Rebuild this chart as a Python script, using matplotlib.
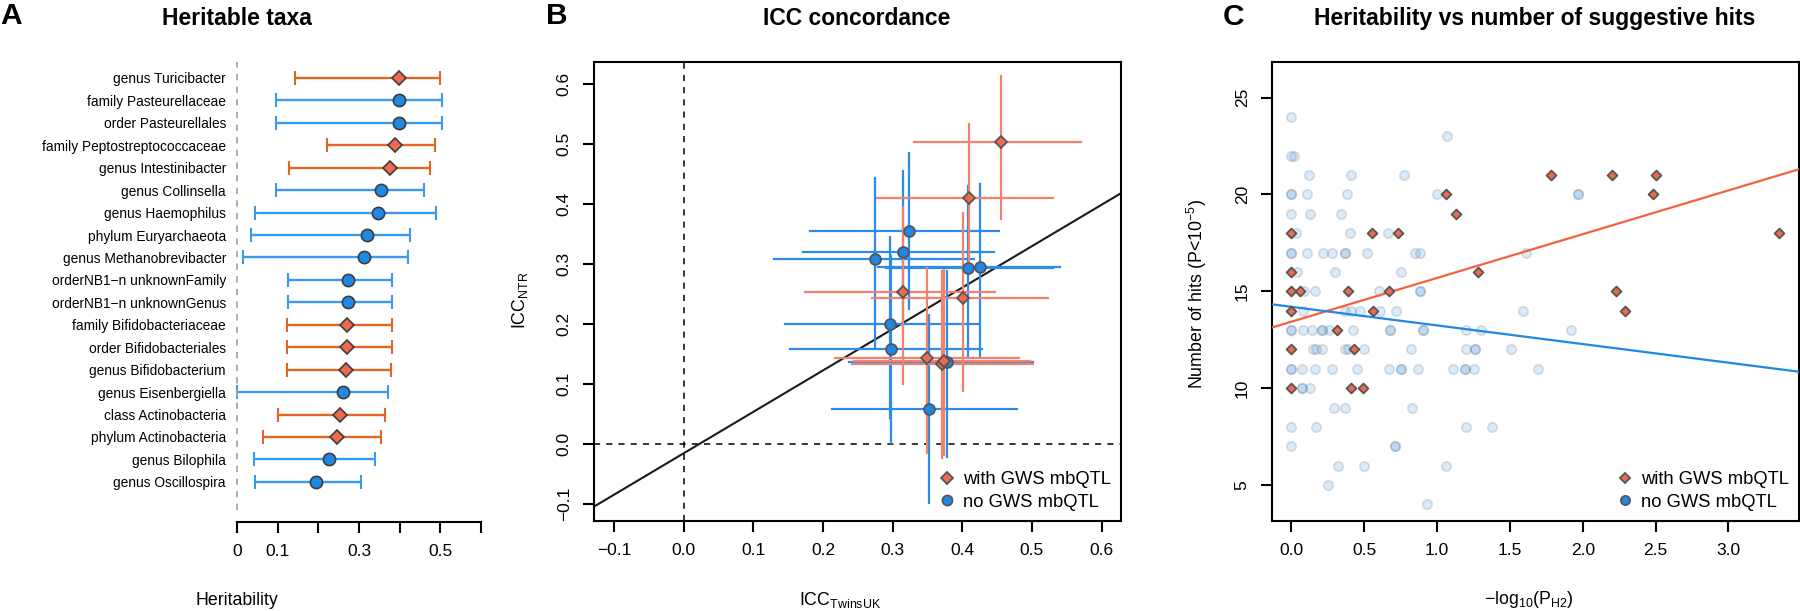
import numpy as np
import matplotlib
matplotlib.use("Agg")
import matplotlib.pyplot as plt
from matplotlib.lines import Line2D

plt.rcParams['font.family'] = ['Liberation Sans', 'DejaVu Sans']
plt.rcParams['mathtext.fontset'] = 'custom'
plt.rcParams['mathtext.rm'] = 'Liberation Sans'
plt.rcParams['mathtext.it'] = 'Liberation Sans:italic'
plt.rcParams['mathtext.bf'] = 'Liberation Sans:bold'

# ---------------- panel A : heritable taxa ----------------
taxa = ["genus Turicibacter", "family Pasteurellaceae", "order Pasteurellales",
        "family Peptostreptococcaceae", "genus Intestinibacter", "genus Collinsella",
        "genus Haemophilus", "phylum Euryarchaeota", "genus Methanobrevibacter",
        "orderNB1\u2212n unknownFamily", "orderNB1\u2212n unknownGenus",
        "family Bifidobacteriaceae", "order Bifidobacteriales", "genus Bifidobacterium",
        "genus Eisenbergiella", "class Actinobacteria", "phylum Actinobacteria",
        "genus Bilophila", "genus Oscillospira"]
h2 = [0.399, 0.398, 0.398, 0.389, 0.375, 0.355, 0.347, 0.319, 0.313, 0.273, 0.273,
      0.270, 0.270, 0.268, 0.261, 0.254, 0.245, 0.226, 0.195]
h2_lo = [0.142, 0.096, 0.096, 0.222, 0.127, 0.097, 0.044, 0.035, 0.015, 0.125, 0.125,
         0.124, 0.124, 0.122, 0.000, 0.100, 0.063, 0.043, 0.044]
h2_hi = [0.498, 0.505, 0.505, 0.488, 0.474, 0.460, 0.490, 0.425, 0.420, 0.382, 0.382,
         0.380, 0.380, 0.378, 0.372, 0.365, 0.355, 0.340, 0.306]
gws_taxon = [True, False, False, True, True, False, False, False, False, False, False,
             True, True, True, False, True, True, False, False]

# ---------------- panel B : ICC concordance ----------------
# with GWS mbQTL
gws_twins = [0.455, 0.410, 0.315, 0.401, 0.350, 0.371, 0.374]
gws_twins_lo = [0.330, 0.277, 0.174, 0.270, 0.217, 0.242, 0.245]
gws_twins_hi = [0.570, 0.530, 0.447, 0.523, 0.482, 0.501, 0.498]
gws_ntr = [0.504, 0.411, 0.253, 0.243, 0.144, 0.134, 0.139]
gws_ntr_lo = [0.375, 0.288, 0.100, 0.088, -0.014, -0.023, -0.018]
gws_ntr_hi = [0.614, 0.534, 0.395, 0.385, 0.293, 0.289, 0.290]
# no GWS mbQTL
nog_twins = [0.323, 0.315, 0.275, 0.408, 0.425, 0.296, 0.298, 0.352, 0.378]
nog_twins_lo = [0.181, 0.171, 0.130, 0.290, 0.279, 0.146, 0.152, 0.213, 0.237]
nog_twins_hi = [0.453, 0.445, 0.417, 0.531, 0.540, 0.424, 0.429, 0.479, 0.502]
nog_ntr = [0.356, 0.320, 0.308, 0.294, 0.296, 0.200, 0.159, 0.059, 0.137]
nog_ntr_lo = [0.225, 0.186, 0.162, 0.143, 0.145, 0.043, 0.002, -0.098, -0.021]
nog_ntr_hi = [0.486, 0.455, 0.444, 0.431, 0.433, 0.346, 0.313, 0.216, 0.289]
icc_fit = (-0.015, 0.69)   # intercept, slope

# ---------------- panel C : heritability vs hits ----------------
gws_logp = [0.00, 0.00, 0.00, 0.06, 0.39, 0.67, 0.55, 0.73, 1.06, 1.13, 0.00, 0.56, 0.31,
            0.00, 0.43, 0.00, 0.41, 0.49, 1.78, 2.20, 2.50, 2.48, 3.35, 1.28, 2.23, 2.29]
gws_hits = [18, 16, 15, 15, 15, 15, 18, 18, 20, 19, 14, 14, 13,
            12, 12, 10, 10, 10, 21, 21, 21, 20, 18, 16, 15, 14]
nog_logp = [0.00,
            1.07,
            0.00, 0.02,
            0.12, 0.41, 0.77,
            0.00, 0.00, 0.11, 0.38, 1.00, 1.97, 1.97,
            0.00, 0.13, 0.34,
            0.03, 0.40, 0.66,
            0.00, 0.00, 0.11, 0.22, 0.28, 0.37, 0.37, 0.52, 0.85, 0.88, 1.61,
            0.04, 0.30, 0.75,
            0.09, 0.16, 0.60, 0.88, 0.88,
            0.08, 0.37, 0.41, 0.47, 0.61, 0.72, 1.59,
            0.00, 0.00, 0.08, 0.14, 0.21, 0.21, 0.26, 0.42, 0.68, 0.68, 0.90, 0.90, 1.20, 1.30, 1.92,
            0.15, 0.17, 0.21, 0.37, 0.39, 0.50, 0.82, 1.20, 1.26, 1.26, 1.51,
            0.00, 0.00, 0.07, 0.16, 0.28, 0.45, 0.67, 0.75, 0.75, 0.87, 1.11, 1.19, 1.19, 1.25, 1.69,
            0.07, 0.07, 0.13,
            0.29, 0.37, 0.83,
            0.00, 0.17, 1.20, 1.38,
            0.00, 0.71, 0.71,
            0.32, 0.50, 1.06,
            0.25,
            0.93]
nog_hits = ([24] + [23] + [22] * 2 + [21] * 3 + [20] * 7 + [19] * 3 + [18] * 3 + [17] * 11
            + [16] * 3 + [15] * 5 + [14] * 7 + [13] * 15 + [12] * 11 + [11] * 15 + [10] * 3
            + [9] * 3 + [8] * 4 + [7] * 3 + [6] * 3 + [5] + [4])
gws_fit = (13.43, 2.26)
nog_fit = (14.20, -0.962)

# colours
OR_FILL = '#EE6A4D'
OR_LINE_A = '#E2661F'
OR_LINE_B = '#F1836E'
OR_LINE_C = '#F4613F'
BL_FILL = '#1E88E5'
BL_LINE_A = '#3A9AF0'
BL_LINE_B = '#2B8CEB'
EDGE = '#3d3d3d'
EDGE2 = '#555555'

W, H = 1800, 611
fig = plt.figure(figsize=(18, 6.11), dpi=100)


def box(l, t, r, b):
    return [l / W, 1 - b / H, (r - l) / W, (b - t) / H]


def fx(x):
    return x / W


def fy(y):
    return 1 - y / H


TICK_FS = 12.5
LAB_FS = 12.8
TITLE_FS = 16.5
LEG_FS = 13.2

# ---------- A ----------
axA = fig.add_axes(box(237, 62, 481, 522))
for i in range(len(taxa)):
    lc = OR_LINE_A if gws_taxon[i] else BL_LINE_A
    axA.errorbar(h2[i], i, xerr=[[h2[i] - h2_lo[i]], [h2_hi[i] - h2[i]]], fmt='none',
                 ecolor=lc, elinewidth=1.7, capsize=4.8, capthick=1.5, clip_on=False)
    if gws_taxon[i]:
        axA.plot(h2[i], i, marker='D', ms=7.0, mfc=OR_FILL, mec=EDGE, mew=1.2, clip_on=False, zorder=5)
    else:
        axA.plot(h2[i], i, marker='o', ms=8.8, mfc=BL_FILL, mec=EDGE, mew=1.2, clip_on=False, zorder=5)
axA.axvline(0, ymin=0.026, ymax=1, color='#a8a8a8', ls=(0, (3.5, 3.5)), lw=1.3, clip_on=False)
axA.set_xlim(0, 0.6)
axA.set_ylim(19.79, -0.713)
axA.set_yticks(range(len(taxa)))
axA.set_yticklabels(taxa, fontsize=9.9)
axA.tick_params(axis='y', length=0, pad=8)
axA.set_xticks([0, 0.1, 0.2, 0.3, 0.4, 0.5, 0.6])
axA.set_xticklabels(['0', '0.1', '', '0.3', '', '0.5', ''], fontsize=TICK_FS)
axA.tick_params(axis='x', length=8, width=1.5, pad=8)
for s in ['top', 'right', 'left']:
    axA.spines[s].set_visible(False)
axA.spines['bottom'].set_linewidth(1.5)
axA.set_facecolor('none')
fig.text(fx(237), fy(25), 'Heritable taxa', ha='center', va='baseline', fontsize=TITLE_FS, fontweight='bold')
fig.text(fx(237), fy(605), 'Heritability', ha='center', va='baseline', fontsize=LAB_FS)
fig.text(fx(0), fy(23.5), 'A', ha='left', va='baseline', fontsize=21.5, fontweight='bold')

# ---------- B ----------
axB = fig.add_axes(box(594, 62, 1121, 521))
axB.set_xlim(-0.129, 0.628)
axB.set_ylim(-0.128, 0.637)
axB.axhline(0, color='k', ls=(0, (4, 4)), lw=1.1, zorder=1)
axB.axvline(0, color='k', ls=(0, (4, 4)), lw=1.1, zorder=1)
xx = np.array(axB.get_xlim())
axB.plot(xx, icc_fit[0] + icc_fit[1] * xx, color='#1a1a1a', lw=1.5, zorder=2)
for i in range(len(nog_twins)):
    axB.plot([nog_twins_lo[i], nog_twins_hi[i]], [nog_ntr[i]] * 2, color=BL_LINE_B, lw=1.6, zorder=3)
    axB.plot([nog_twins[i]] * 2, [nog_ntr_lo[i], nog_ntr_hi[i]], color=BL_LINE_B, lw=1.6, zorder=3)
for i in range(len(gws_twins)):
    axB.plot([gws_twins_lo[i], gws_twins_hi[i]], [gws_ntr[i]] * 2, color=OR_LINE_B, lw=1.6, zorder=3)
    axB.plot([gws_twins[i]] * 2, [gws_ntr_lo[i], gws_ntr_hi[i]], color=OR_LINE_B, lw=1.6, zorder=3)
axB.plot(nog_twins, nog_ntr, ls='none', marker='o', ms=7.8, mfc=BL_FILL, mec=EDGE2, mew=1.3, zorder=4)
axB.plot(gws_twins, gws_ntr, ls='none', marker='D', ms=6.0, mfc=OR_FILL, mec=EDGE2, mew=1.3, zorder=5)
axB.set_xticks(np.arange(-0.1, 0.61, 0.1))
axB.set_xticklabels(['\u22120.1', '0.0', '0.1', '0.2', '0.3', '0.4', '0.5', '0.6'], fontsize=TICK_FS)
axB.set_yticks(np.arange(-0.1, 0.61, 0.1))
axB.set_yticklabels(['\u22120.1', '0.0', '0.1', '0.2', '0.3', '0.4', '0.5', '0.6'], fontsize=TICK_FS,
                    rotation=90, va='center', ha='right')
axB.tick_params(length=8, width=1.5, pad=8)
for s in axB.spines.values():
    s.set_linewidth(1.5)
legB = [Line2D([], [], ls='none', marker='D', ms=5.8, mfc=OR_FILL, mec=EDGE2, mew=1.3),
        Line2D([], [], ls='none', marker='o', ms=7.2, mfc=BL_FILL, mec=EDGE2, mew=1.3)]
axB.legend(legB, ['with GWS mbQTL', 'no GWS mbQTL'], loc='lower right', frameon=False,
           fontsize=LEG_FS, handlelength=0.8, handletextpad=0.45, labelspacing=0.3,
           borderaxespad=0.25, borderpad=0.3)
fig.text(fx(857), fy(25), 'ICC concordance', ha='center', va='baseline', fontsize=TITLE_FS, fontweight='bold')
fig.text(fx(840), fy(605), r'ICC$_{\mathrm{TwinsUK}}$', ha='center', va='baseline', fontsize=LAB_FS)
fig.text(fx(520), fy(300), r'ICC$_{\mathrm{NTR}}$', ha='center', va='center', rotation=90, fontsize=LAB_FS)
fig.text(fx(546), fy(24), 'B', ha='left', va='baseline', fontsize=21.5, fontweight='bold')

# ---------- C ----------
axC = fig.add_axes(box(1272, 62, 1799, 521))
axC.set_xlim(-0.133, 3.484)
axC.set_ylim(3.14, 26.84)
axC.scatter(nog_logp, nog_hits, s=46, facecolor=(0.12, 0.53, 0.90, 0.16),
            edgecolor=(0.3, 0.3, 0.3, 0.16), lw=1.3, zorder=2)
xx = np.array(axC.get_xlim())
axC.plot(xx, gws_fit[0] + gws_fit[1] * xx, color=OR_LINE_C, lw=1.6, zorder=3)
axC.plot(xx, nog_fit[0] + nog_fit[1] * xx, color=BL_FILL, lw=1.6, zorder=3)
axC.scatter(gws_logp, gws_hits, marker='D', s=25, facecolor=OR_FILL, edgecolor=EDGE2, lw=1.3, zorder=4)
axC.set_xticks(np.arange(0, 3.01, 0.5))
axC.set_xticklabels(['0.0', '0.5', '1.0', '1.5', '2.0', '2.5', '3.0'], fontsize=TICK_FS)
axC.set_yticks([5, 10, 15, 20, 25])
axC.set_yticklabels(['5', '10', '15', '20', '25'], fontsize=TICK_FS, rotation=90, va='center', ha='right')
axC.tick_params(length=8, width=1.5, pad=8)
for s in axC.spines.values():
    s.set_linewidth(1.5)
legC = [Line2D([], [], ls='none', marker='D', ms=5.3, mfc=OR_FILL, mec=EDGE2, mew=1.3),
        Line2D([], [], ls='none', marker='o', ms=6.6, mfc=BL_FILL, mec=EDGE2, mew=1.3)]
axC.legend(legC, ['with GWS mbQTL', 'no GWS mbQTL'], loc='lower right', frameon=False,
           fontsize=LEG_FS, handlelength=0.8, handletextpad=0.45, labelspacing=0.3,
           borderaxespad=0.25, borderpad=0.3)
fig.text(fx(1535), fy(25), 'Heritability vs number of suggestive hits', ha='center', va='baseline',
         fontsize=TITLE_FS, fontweight='bold')
fig.text(fx(1529), fy(604), r'$\mathrm{-log}_{10}(\mathrm{P}_{\mathrm{H2}})$', ha='center', va='baseline',
         fontsize=LAB_FS)
fig.text(fx(1197), fy(294), r'Number of hits (P<10$^{\mathrm{-5}}$)', ha='center', va='center',
         rotation=90, fontsize=LAB_FS)
fig.text(fx(1223), fy(25), 'C', ha='left', va='baseline', fontsize=21.5, fontweight='bold')

fig.savefig('out.png', dpi=100)
